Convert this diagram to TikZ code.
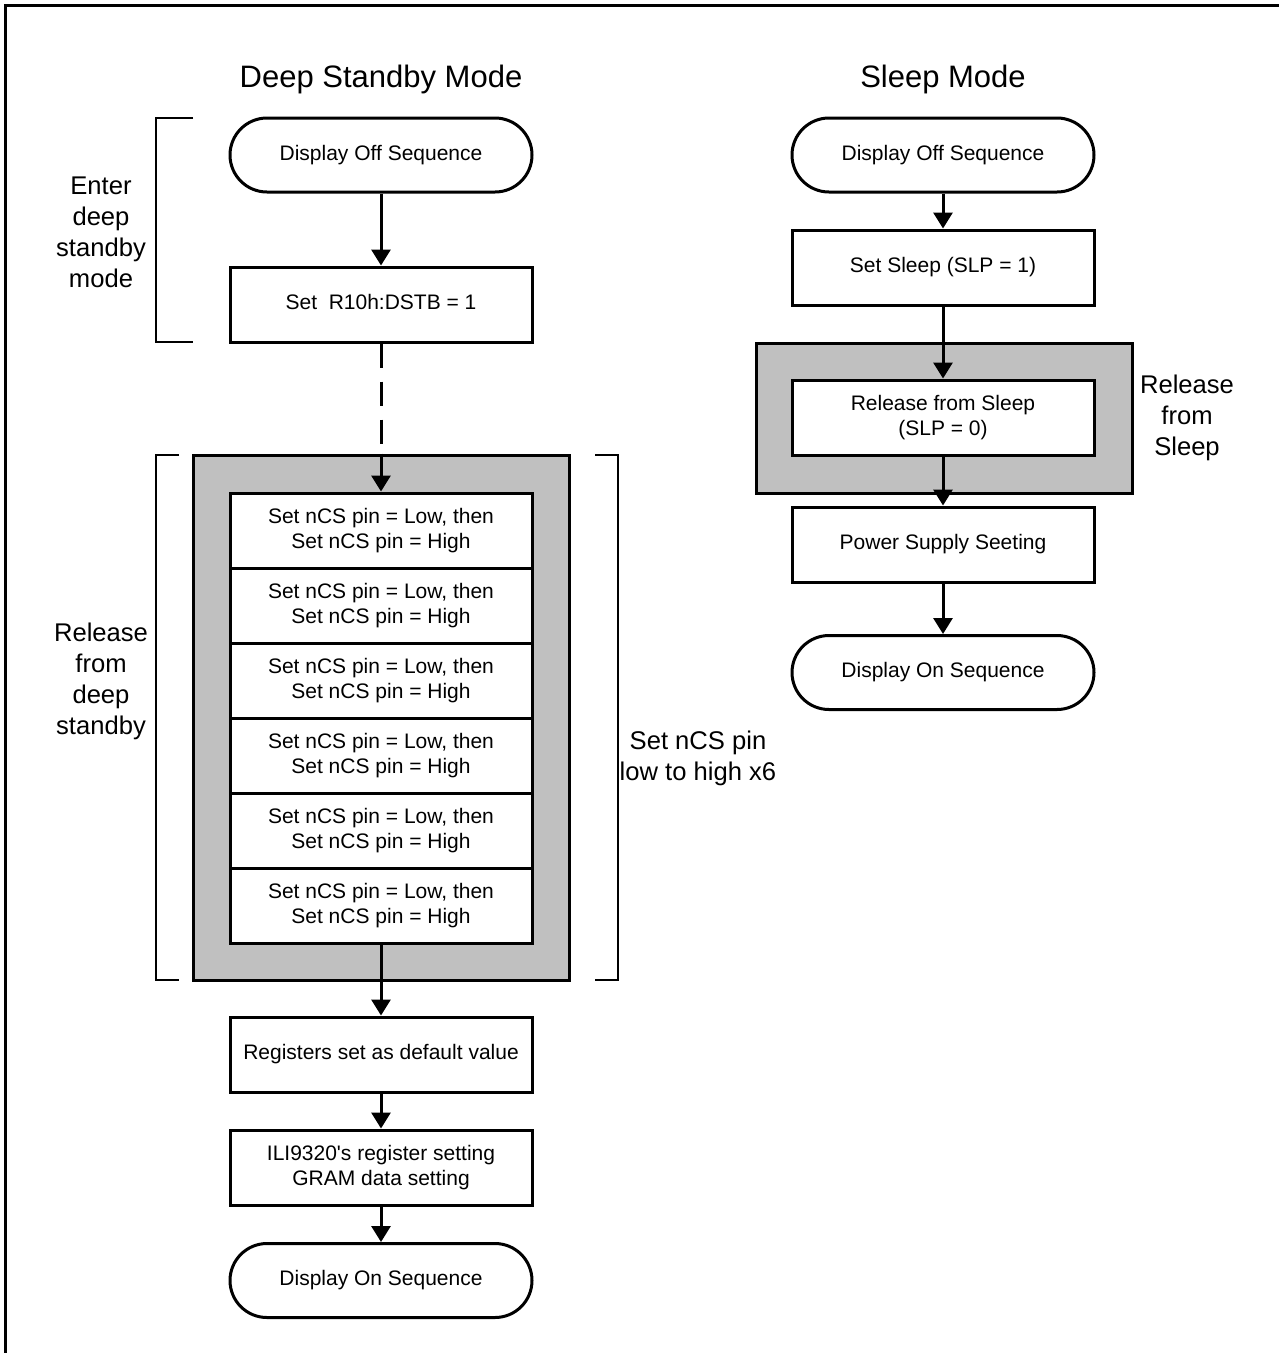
\documentclass[tikz,border=0pt]{standalone}
\usepackage{fontspec}
\setmainfont{Liberation Sans}[Ligatures=TeXOff]
\usetikzlibrary{arrows.meta}
\definecolor{grayfill}{HTML}{C0C0C0}
\tikzset{
  boxtxt/.style={font=\fontsize{21}{25}\selectfont, align=center},
  procbox/.style={boxtxt, draw, line width=3pt, fill=white, minimum width=302pt, minimum height=75pt, inner sep=0pt},
  termbox/.style={boxtxt, draw, line width=3pt, fill=white, minimum width=302pt, minimum height=74pt, rounded corners=37pt, inner sep=0pt},
  grayregion/.style={draw, line width=3pt, fill=grayfill, inner sep=0pt},
  flow/.style={line width=3pt, -{Triangle[length=16pt,width=19pt]}},
  dashflow/.style={line width=3pt, dash pattern=on 24pt off 14pt},
  bracket/.style={line width=1.5pt},
  titletxt/.style={font=\fontsize{31}{37}\selectfont},
  sidetxt/.style={font=\fontsize{25.6}{31}\selectfont, align=center},
}
\begin{document}
\begin{tikzpicture}[x=1pt,y=-1pt]
\useasboundingbox (0,0) rectangle (1279,1353);
% frame (top and left only)
\draw[line width=3pt] (5.5,1353) -- (5.5,5.5) -- (1279,5.5);

% titles
\node[titletxt] (t1) at (381,79) {Deep Standby Mode};
\node[titletxt] (t2) at (943,79) {Sleep Mode};

% gray regions
\node[grayregion, minimum width=376pt, minimum height=525pt] (grayL) at (381,717.5) {};
\node[grayregion, minimum width=376pt, minimum height=150pt] (grayR) at (944,418) {};

% left column
\node[termbox] (offL) at (381,155) {\strut Display Off Sequence};
\node[procbox] (dstb) at (381,304.5) {\strut Set\ \ R10h:DSTB = 1};
\foreach \i/\y in {1/530.5,2/605.5,3/680.5,4/755.5,5/830.5,6/905.5}{
  \node[procbox] (ncs\i) at (381,\y) {Set nCS pin = Low, then\\Set nCS pin = High};
}
\node[procbox] (regs) at (381,1054.5) {\strut Registers set as default value};
\node[procbox] (ili) at (381,1167.5) {ILI9320's register setting\\GRAM data setting};
\node[termbox] (onL) at (381,1280.5) {\strut Display On Sequence};

% right column
\node[termbox] (offR) at (943,155) {\strut Display Off Sequence};
\node[procbox] (slp1) at (943,267.5) {\strut Set Sleep (SLP = 1)};
\node[procbox] (rel) at (943,417.5) {Release from Sleep\\(SLP = 0)};
\node[procbox] (pwr) at (943,544.5) {\strut Power Supply Seeting};
\node[termbox] (onR) at (943,672.5) {\strut Display On Sequence};

% connectors left
\draw[flow] (offL.south) -- (dstb.north);
\draw[dashflow] (dstb.south) -- (grayL.north);
\draw[flow] (grayL.north) -- (ncs1.north);
\draw[flow] (ncs6.south) -- (regs.north);
\draw[flow] (regs.south) -- (ili.north);
\draw[flow] (ili.south) -- (onL.north);

% connectors right
\draw[flow] (offR.south) -- (slp1.north);
\draw[flow] (slp1.south) -- (rel.north);
\draw[flow] (rel.south) -- (pwr.north);
\draw[flow] (pwr.south) -- (onR.north);

% brackets
\draw[bracket] (193,118) -- (156,118) -- (156,342) -- (193,342);
\draw[bracket] (179,455) -- (156,455) -- (156,980) -- (179,980);
\draw[bracket] (595,455) -- (618,455) -- (618,980) -- (595,980);

% side labels
\node[sidetxt] (enterlbl) at (101,232) {Enter\\deep\\standby\\mode};
\node[sidetxt] (releaselbl) at (101,681) {Release\\from\\deep\\standby};
\node[sidetxt] (ncslbl) at (698,758) {Set nCS pin\\low to high x6};
\node[sidetxt] (sleeplbl) at (1187,418) {Release\\from\\Sleep};
\end{tikzpicture}
\end{document}
